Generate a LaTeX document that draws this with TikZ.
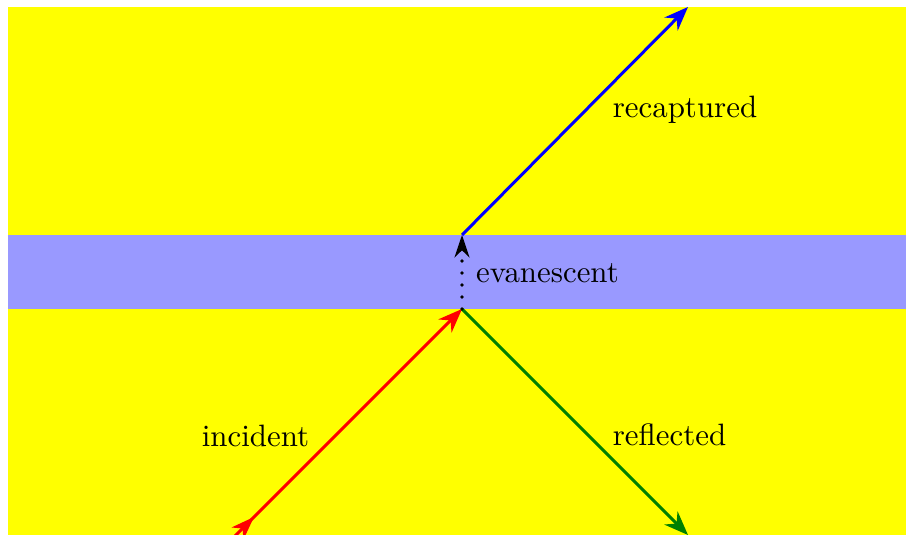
\documentclass[tikz,border=0pt]{standalone}
\usetikzlibrary{arrows.meta,calc}
\definecolor{bgyellow}{RGB}{255,255,0}
\definecolor{bandblue}{RGB}{153,153,255}
\definecolor{reflgreen}{RGB}{0,128,0}
\begin{document}
\begin{tikzpicture}[x=0.33333pt,y=-0.33333pt,
  ray/.style={line width=1pt,-{Stealth[length=8pt,width=6.2pt,inset=2.6pt]}},
  lbl/.style={inner sep=0pt,font=\fontsize{10.3}{12}\selectfont}]
\useasboundingbox (0,0) rectangle (906,535);
\clip (0,0) rectangle (906,535);
\fill[bgyellow] (8,7) rectangle (906,535);
\fill[bandblue] (8,235) rectangle (906,309);
\coordinate (top) at (462,235);
\coordinate (bot) at (462,309);
\coordinate (rec) at (688,7);
\coordinate (refl) at (688,535);
\coordinate (inc) at (224,547);
% incident
\draw[ray,red] (inc) -- (bot);
\coordinate (T) at (254,517);
\fill[red] (T) -- (231.5,527.5) -- (242.5,528.5) -- (243.5,539.5) -- cycle;
% reflected
\draw[ray,reflgreen] (bot) -- (refl);
% recaptured
\draw[ray,blue] (top) -- (rec);
% evanescent
\draw[line width=1.3pt,line cap=round,dash pattern=on 0pt off 4pt,
      shorten >=6pt] (bot) -- (top);
\draw[line width=0.8pt,-{Stealth[length=7.5pt,width=5pt,inset=2.4pt]}]
      ($(top)+(0,14)$) -- (top);
\node[lbl] (lrec) at (685,110) {recaptured};
\node[lbl] (linc) at (255.5,436) {incident};
\node[lbl] (leva) at (547.5,273) {evanescent};
\node[lbl] (lref) at (669.5,435) {reflected};
\end{tikzpicture}
\end{document}
